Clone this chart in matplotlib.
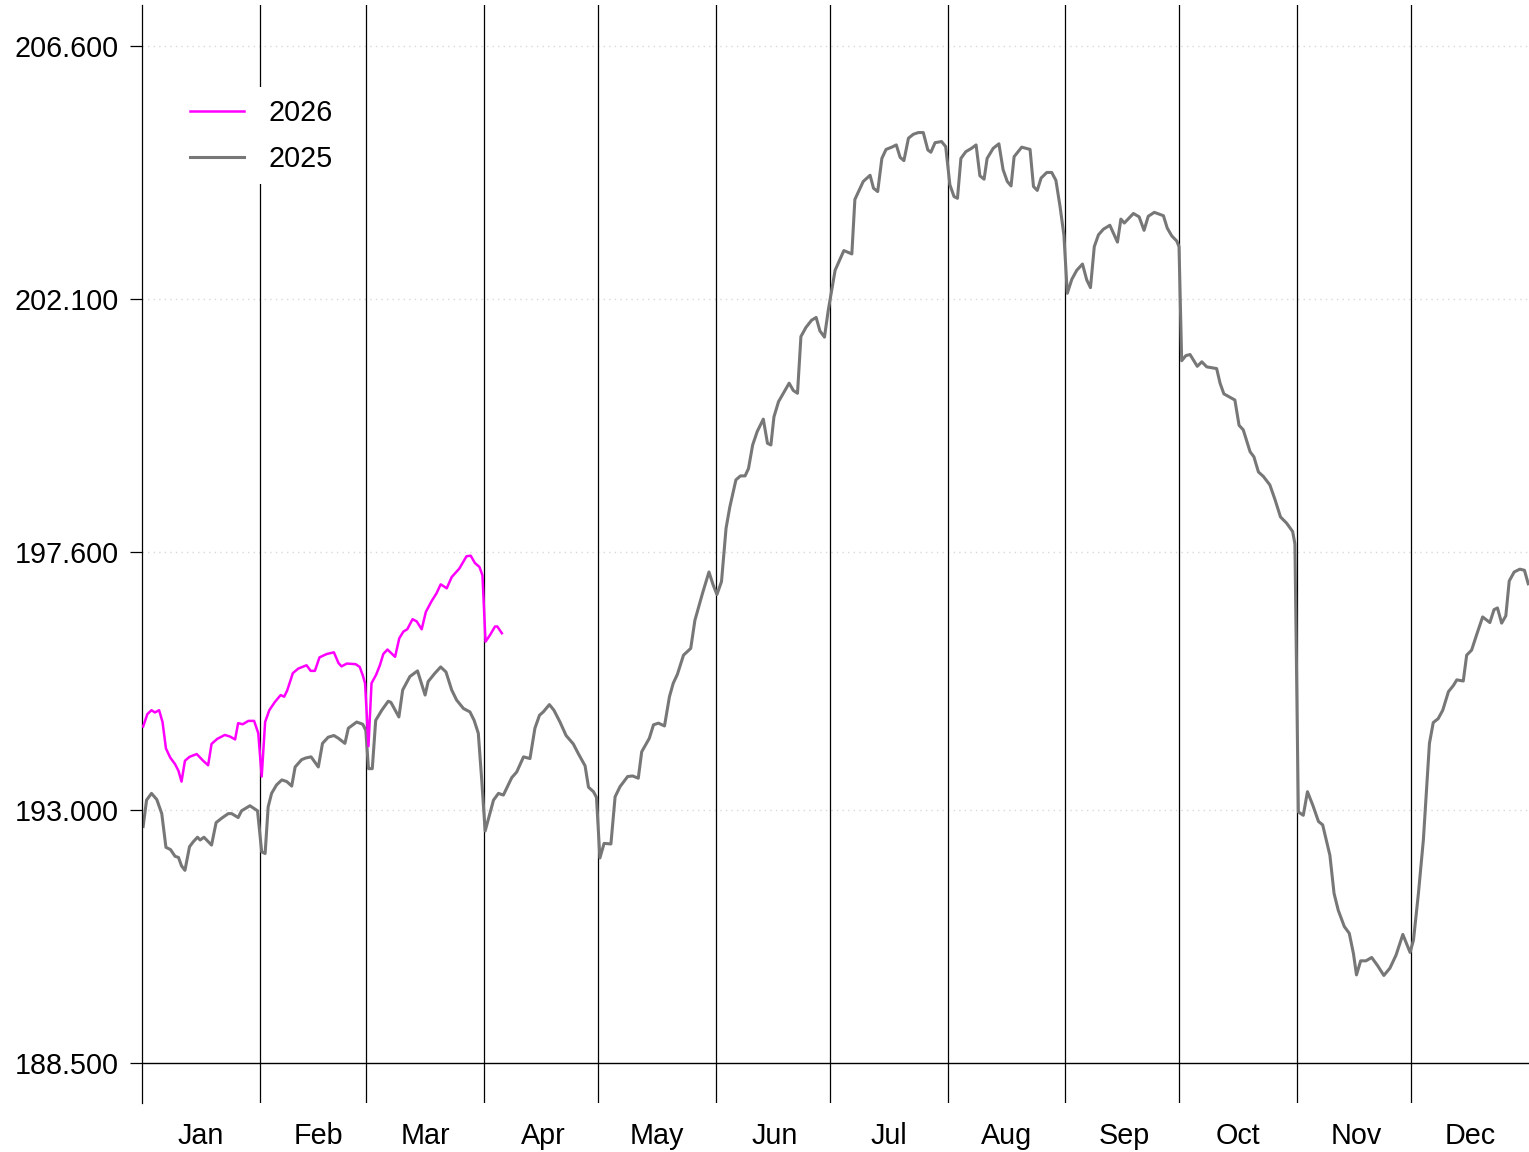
import numpy as np
import matplotlib
matplotlib.use("Agg")
import matplotlib.pyplot as plt
from matplotlib.ticker import FormatStrFormatter

plt.rcParams['font.family'] = ['Liberation Sans', 'DejaVu Sans']

# dia do ano (0 = 1 jan) e valores
dia_2025 = [0.3, 1.2, 2.5, 3.9, 5.2, 6.3, 7.5, 8.7, 9.6, 10.4, 11.3, 12.5, 13.5, 14.6, 15.3,
            16.3, 18.3, 19.5, 21.0, 22.7, 23.6, 25.3, 26.2, 28.4, 30.4, 31.5, 32.4, 33.2, 34.1,
            35.4, 36.8, 38.1, 39.4, 40.3, 42.0, 43.1, 44.5, 46.4, 47.5, 49.0, 50.5, 51.7, 53.4,
            54.3, 56.5, 58.1, 58.9, 59.6, 60.6, 61.5, 63.1, 64.8, 65.5, 67.6, 68.6, 70.5, 72.5,
            74.5, 75.3, 77.1, 78.6, 80.0, 81.5, 82.8, 84.6, 86.3, 87.4, 88.5, 89.4, 90.3, 92.5,
            93.8, 95.1, 97.3, 98.6, 100.4, 102.1, 103.4, 104.6, 105.6, 107.2, 108.4, 110.0,
            111.6, 113.5, 114.8, 116.6, 117.5, 118.8, 119.6, 120.5, 121.6, 123.4, 124.5, 125.8,
            127.8, 129.1, 130.6, 131.5, 133.5, 134.6, 135.9, 137.5, 138.8, 139.8, 140.9, 142.5,
            144.4, 145.5, 147.5, 149.2, 150.3, 151.3, 152.5, 153.7, 154.7, 156.3, 157.5, 158.7,
            159.6, 160.7, 161.9, 163.5, 164.6, 165.5, 166.3, 167.5, 170.3, 171.4, 172.5, 173.4,
            174.7, 176.2, 177.4, 178.4, 179.6, 180.6, 182.4, 184.7, 186.8, 187.6, 189.8, 191.6,
            192.5, 193.6, 194.7, 195.8, 197.3, 198.5, 199.5, 200.5, 201.7, 203.0, 204.3, 205.6,
            206.8, 207.6, 208.7, 210.4, 211.5, 212.6, 213.7, 214.6, 215.5, 216.8, 218.3, 219.5,
            220.5, 221.6, 222.4, 224.0, 225.5, 226.6, 227.7, 228.7, 229.5, 231.5, 233.7, 234.6,
            235.6, 236.6, 238.1, 239.4, 240.5, 241.6, 242.6, 243.5, 244.7, 246.0, 247.5, 248.6,
            249.6, 250.6, 251.7, 253.0, 254.7, 256.7, 257.6, 258.5, 260.9, 262.4, 263.7, 264.8,
            266.4, 268.8, 269.8, 271.0, 272.3, 272.9, 273.6, 274.7, 275.8, 277.7, 278.9, 280.2,
            282.8, 283.7, 284.7, 287.6, 288.7, 289.8, 291.6, 292.6, 293.8, 295.1, 296.8, 298.2,
            299.6, 301.2, 302.8, 303.4, 304.3, 305.6, 306.7, 308.1, 309.6, 310.7, 312.6, 313.7,
            314.8, 316.4, 317.7, 318.8, 319.6, 320.7, 322.1, 323.6, 325.1, 326.8, 328.4, 330.0,
            331.8, 333.7, 334.6, 335.9, 337.2, 338.8, 339.8, 341.1, 342.3, 343.8, 345.1, 346.0,
            347.7, 348.6, 349.9, 351.2, 352.8, 354.7, 355.8, 356.7, 357.8, 358.9, 359.8, 361.1,
            362.6, 363.8, 364.8]
valor_2025 = [192.71, 193.18, 193.30, 193.19, 192.94, 192.34, 192.30, 192.18, 192.16, 192.01,
              191.93, 192.35, 192.44, 192.52, 192.47, 192.52, 192.38, 192.78, 192.86, 192.94,
              192.94, 192.87, 192.99, 193.08, 192.99, 192.26, 192.23, 193.06, 193.30, 193.45,
              193.54, 193.51, 193.43, 193.77, 193.90, 193.93, 193.95, 193.77, 194.19, 194.30,
              194.33, 194.28, 194.19, 194.46, 194.57, 194.53, 194.42, 193.74, 193.74, 194.60,
              194.78, 194.94, 194.92, 194.66, 195.14, 195.38, 195.48, 195.05, 195.29, 195.44,
              195.55, 195.46, 195.14, 194.96, 194.81, 194.75, 194.60, 194.37, 193.54, 192.63,
              193.18, 193.30, 193.27, 193.58, 193.68, 193.95, 193.92, 194.46, 194.69, 194.75,
              194.88, 194.78, 194.57, 194.33, 194.18, 194.01, 193.79, 193.41, 193.33, 193.23,
              192.15, 192.41, 192.40, 193.24, 193.42, 193.60, 193.61, 193.57, 194.04, 194.28,
              194.52, 194.55, 194.50, 195.02, 195.26, 195.42, 195.76, 195.88, 196.38, 196.86,
              197.24, 197.01, 196.84, 197.07, 198.02, 198.40, 198.88, 198.95, 198.95, 199.08,
              199.50, 199.74, 199.96, 199.53, 199.50, 200.00, 200.27, 200.60, 200.47, 200.42,
              201.43, 201.59, 201.72, 201.77, 201.53, 201.42, 201.90, 202.61, 202.96, 202.90,
              203.87, 204.19, 204.30, 204.07, 204.01, 204.60, 204.76, 204.80, 204.84, 204.62,
              204.56, 204.96, 205.03, 205.06, 205.06, 204.75, 204.71, 204.88, 204.90, 204.81,
              204.13, 203.92, 203.89, 204.60, 204.72, 204.78, 204.84, 204.29, 204.23, 204.60,
              204.78, 204.86, 204.40, 204.19, 204.11, 204.63, 204.80, 204.76, 204.10, 204.03,
              204.25, 204.35, 204.35, 204.21, 203.74, 203.24, 202.20, 202.45, 202.61, 202.72,
              202.44, 202.30, 203.03, 203.24, 203.34, 203.41, 203.11, 203.52, 203.45, 203.62,
              203.56, 203.32, 203.57, 203.64, 203.58, 203.36, 203.22, 203.13, 203.03, 201.00,
              201.09, 201.11, 200.90, 200.98, 200.89, 200.86, 200.60, 200.41, 200.30, 199.85,
              199.77, 199.38, 199.29, 199.02, 198.94, 198.79, 198.52, 198.22, 198.11, 197.96,
              197.74, 192.97, 192.91, 193.33, 193.09, 192.80, 192.74, 192.20, 191.52, 191.22,
              190.93, 190.81, 190.45, 190.07, 190.32, 190.32, 190.38, 190.24, 190.06, 190.19,
              190.42, 190.79, 190.47, 190.69, 191.52, 192.47, 194.19, 194.56, 194.63, 194.78,
              195.11, 195.22, 195.32, 195.30, 195.76, 195.85, 196.12, 196.44, 196.34, 196.57,
              196.60, 196.33, 196.46, 197.08, 197.24, 197.29, 197.27, 197.03]

dia_2026 = [0.3, 1.4, 2.5, 3.4, 4.5, 5.4, 6.3, 7.4, 8.7, 9.6, 10.4, 11.3, 12.5, 14.4, 16.1,
            17.4, 18.3, 19.8, 21.8, 23.2, 24.5, 25.3, 26.5, 28.0, 29.5, 30.6, 31.5, 32.4, 33.5,
            35.0, 36.5, 37.4, 38.2, 39.7, 41.1, 43.3, 44.4, 45.5, 46.7, 48.6, 50.5, 51.7, 52.5,
            53.9, 56.2, 57.3, 58.1, 58.7, 59.6, 60.4, 61.6, 62.6, 63.5, 64.6, 66.6, 67.7, 68.8,
            69.8, 71.2, 72.3, 73.6, 74.7, 76.2, 77.5, 78.6, 80.2, 81.5, 83.5, 85.4, 86.5, 87.6,
            88.8, 89.6, 90.4, 91.6, 92.9, 93.5, 94.7]
valor_2026 = [194.49, 194.71, 194.78, 194.74, 194.78, 194.57, 194.10, 193.94, 193.82, 193.70,
              193.51, 193.88, 193.95, 194.00, 193.88, 193.80, 194.18, 194.27, 194.34, 194.31,
              194.26, 194.55, 194.53, 194.59, 194.59, 194.37, 193.60, 194.57, 194.78, 194.93,
              195.05, 195.02, 195.13, 195.44, 195.52, 195.58, 195.48, 195.48, 195.72, 195.78,
              195.81, 195.62, 195.56, 195.61, 195.60, 195.55, 195.40, 195.26, 194.14, 195.26,
              195.41, 195.58, 195.78, 195.86, 195.73, 196.06, 196.18, 196.22, 196.40, 196.36,
              196.22, 196.53, 196.72, 196.86, 197.02, 196.95, 197.15, 197.30, 197.52, 197.53,
              197.40, 197.33, 197.18, 196.00, 196.12, 196.27, 196.27, 196.15]

meses = ['Jan', 'Feb', 'Mar', 'Apr', 'May', 'Jun', 'Jul', 'Aug', 'Sep', 'Oct', 'Nov', 'Dec']
inicio_mes = [0, 31, 59, 90, 120, 151, 181, 212, 243, 273, 304, 334, 365]
yticks = [188.5, 193.0, 197.6, 202.1, 206.6]

fs = 20.7
fig = plt.figure(figsize=(15.29, 11.52), dpi=100)
ax = fig.add_axes([142 / 1529, 1 - 1103 / 1152, 1387 / 1529, 1098 / 1152])

# grade horizontal pontilhada
for yv in yticks[1:]:
    ax.axhline(yv, color='#d9d9d9', lw=1, ls=(0, (1, 3)), zorder=0)
ax.axhline(188.5, color='black', lw=1, zorder=1)

# linhas dos meses
for m in inicio_mes[1:-1]:
    ax.axvline(m, color='black', lw=0.9, zorder=1)

ax.plot(dia_2026, valor_2026, color='#ff00ff', lw=1.8, label='2026', zorder=3)
ax.plot(dia_2025, valor_2025, color='#777777', lw=2.2, label='2025', zorder=2)

ax.set_xlim(0, 365)
ax.set_ylim(187.79, 207.33)

ax.set_yticks(yticks)
ax.yaxis.set_major_formatter(FormatStrFormatter('%.3f'))
ax.tick_params(axis='y', length=8.6, width=0.9, pad=8, labelsize=fs, color='black')

# rotulo do mes fica 15,5 dias depois do inicio
meio = [m + 15.5 for m in inicio_mes[:-1]]
ax.set_xticks(meio)
ax.set_xticklabels(meses)
ax.tick_params(axis='x', length=0, pad=13.5, labelsize=fs)

for s in ['top', 'right', 'bottom']:
    ax.spines[s].set_visible(False)
ax.spines['left'].set_linewidth(0.9)

leg = ax.legend(loc='upper left', bbox_to_anchor=(0.026, 0.925), fontsize=fs,
                frameon=True, framealpha=1, edgecolor='none', fancybox=False,
                handlelength=1.9, handletextpad=0.86, labelspacing=0.62,
                borderpad=0.4, borderaxespad=0)

fig.savefig('out.png', dpi=100)
